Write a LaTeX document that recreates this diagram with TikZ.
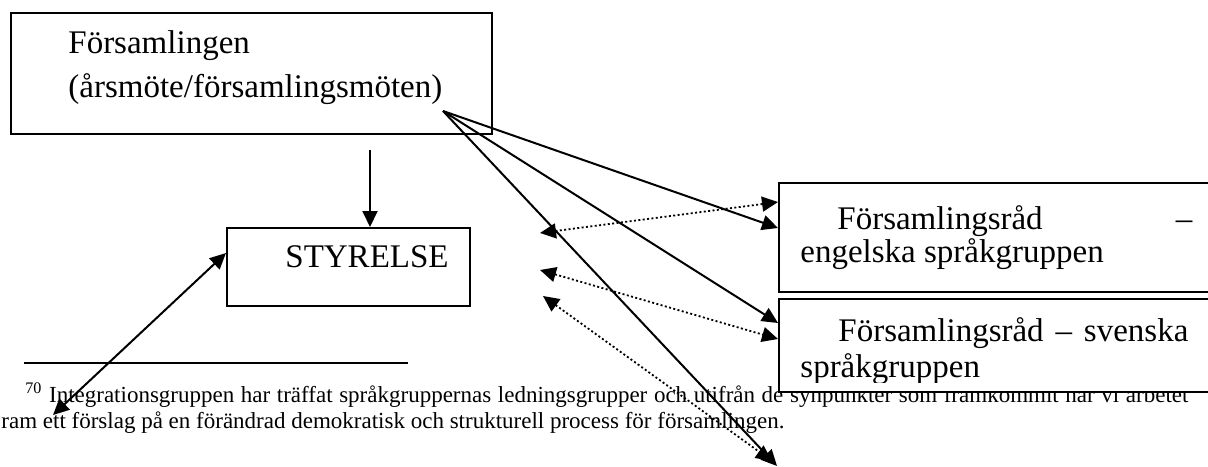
\documentclass[tikz,border=0pt]{standalone}
\usepackage{fontspec}
\setmainfont{Liberation Serif}
\usetikzlibrary{
  arrows.meta
}

\begin{document}
\begin{tikzpicture}[
  x=0.5pt, y=-0.5pt,
  >={Triangle[length=8pt,width=7.5pt]},
  box/.style = {draw, line width=1pt, fill=white,
    inner sep=0pt, anchor=north west},
  big/.style = {anchor=base west, inner sep=0pt,
    font=\fontsize{16.5}{20}\selectfont},
  small/.style = {anchor=base west, inner sep=0pt,
    font=\fontsize{11.5}{13}\selectfont},
  arr/.style = {line width=1pt, ->},
  dotarr/.style = {line width=0.9pt, dash pattern=on 1pt off 1.2pt, <->}]
  \useasboundingbox (0,0) rectangle (1208,466);
  \clip (0,0) rectangle (1208,466);

  % fotnot
  \draw[line width=1pt] (24,363) -- (408,363);
  \node[small] (fnA) at (25,402) {\makebox[581.5pt][s]{\textsuperscript{70} Integrationsgruppen har träffat språkgruppernas ledningsgrupper och utifrån de synpunkter som framkommit har vi arbetet}};
  \node[small] (fnB) at (1,428) {ram ett förslag på en förändrad demokratisk och strukturell process för församlingen.};

  % rutor
  \node[box, minimum width=240.5pt, minimum height=60.5pt] (forsamling) at (10,12) {};
  \node[box, minimum width=121.5pt, minimum height=39pt] (styrelse) at (226,227) {};
  \node[box, minimum width=220pt, minimum height=54.5pt] (engelska) at (778,182) {};
  \node[box, minimum width=220pt, minimum height=46.5pt] (svenska) at (778,298) {};

  \node[big] (forsA) at (68,53) {Församlingen};
  \node[big] (forsB) at (68,97) {(årsmöte/församlingsmöten)};
  \node[big] (styr) at (285,267) {STYRELSE};
  \node[big] (engA) at (837,229) {\makebox[177.5pt][s]{Församlingsråd –}};
  \node[big] (engB) at (800,262) {engelska språkgruppen};
  \begin{scope}
    \clip (778,298) rectangle (1210,382);
    \node[big] (sveA) at (838,341) {\makebox[175pt][s]{Församlingsråd – svenska}};
    \node[big] (sveB) at (800,377) {språkgruppen};
  \end{scope}

  % pilar
  \coordinate (src) at (443,111);
  \coordinate (down) at (370,150);
  \coordinate (tipA) at (777,466);
  \coordinate (dotA) at (540,233);
  \coordinate (dotB) at (540,270);
  \coordinate (dotC) at (543,296);
  \coordinate (dotD) at (772,461);
  \coordinate (fnend) at (53,415);

  \draw[arr] (src) -- ([yshift=-23pt]engelska.north west);
  \draw[arr] (src) -- ([yshift=-12.5pt]svenska.north west);
  \draw[arr] (src) -- (tipA);
  \draw[dotarr] (dotA) -- ([yshift=-10pt]engelska.north west);
  \draw[dotarr] (dotB) -- ([yshift=-20.5pt]svenska.north west);
  \draw[dotarr] (dotC) -- (dotD);
  \draw[arr] (down) -- (styrelse.north -| down);
  \draw[arr, <->] (fnend) -- ([yshift=7pt]styrelse.west);
\end{tikzpicture}
\end{document}
